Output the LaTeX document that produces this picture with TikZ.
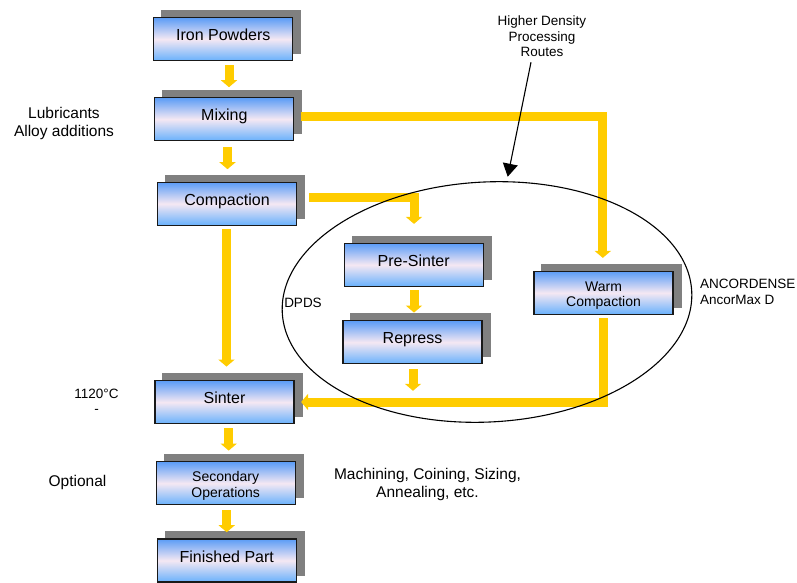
\documentclass[tikz,border=0pt]{standalone}
\usepackage{fontspec}
\setmainfont{Liberation Sans}
\usetikzlibrary{arrows.meta,backgrounds,calc}
\definecolor{ay}{HTML}{FFCC00}
\definecolor{btop}{HTML}{5B9CF6}
\definecolor{bmid}{HTML}{F5E8F3}
\definecolor{bbot}{HTML}{69B1FC}
\definecolor{shd}{HTML}{808080}
\begin{document}
\begin{tikzpicture}[x=1pt,y=-1pt,
  basebox/.style={draw=black!90, line width=1.2pt, top color=btop, bottom color=bbot, middle color=bmid,
    minimum width=139pt, minimum height=43pt, inner sep=0pt, align=center},
  box/.style={basebox, text height=11.5pt, text depth=8.5pt, font=\fontsize{16}{17}\selectfont},
  smallbox/.style={basebox, font=\fontsize{14}{15.7}\selectfont},
  yarrow/.style={draw=ay, line width=9pt, line join=miter, -{Triangle[width=16pt,length=7pt,fill=ay]}},
  lbl/.style={inner sep=0pt, align=center, font=\fontsize{15.5}{17.5}\selectfont},
  slbl/.style={inner sep=0pt, align=center, font=\fontsize{13.5}{15.5}\selectfont},
  shadowfill/.style={fill=shd}]
\useasboundingbox (0,0) rectangle (797,583);

% process boxes
\node[box] (iron) at (223.3,39.2) {Iron Powders};
\node[box] (mixing) at (224.3,119.2) {Mixing};
\node[box] (compaction) at (227,203.7) {Compaction};
\node[box] (presinter) at (413.7,264.8) {Pre-Sinter};
\node[box] (repress) at (412.5,342.3) {Repress};
\node[smallbox] (warm) at (603.5,292.8) {\rule{0pt}{15.5pt}Warm\\Compaction};
\node[box] (sinter) at (224.5,402.2) {Sinter};
\node[smallbox] (secondary) at (225.7,483.3) {\rule{0pt}{15.5pt}Secondary\\Operations};
\node[box] (finished) at (226.8,560.5) {Finished Part};

% shadows
\begin{scope}[on background layer]
\foreach \n in {iron,mixing,compaction,presinter,repress,warm,sinter,secondary,finished}
  \fill[shadowfill] ([shift={(8,-7)}]\n.south west) rectangle ([shift={(8,-7)}]\n.north east);
\end{scope}

% labels
\node[lbl] (lub) at (64,123.5) {Lubricants\\Alloy additions};
\node[slbl] (temp) at (96.5,401.5) {1120°C\\-};
\node[lbl] (opt) at (77.5,482.2) {Optional};
\node[lbl] (mach) at (427.5,484.5) {Machining, Coining, Sizing,\\Annealing, etc.};
\node[slbl] (hdr) at (542,36.6) {Higher Density\\Processing\\Routes};
\node[slbl] (dpds) at (303,303) {DPDS};
\node[slbl, align=left, anchor=west] (anc) at (700,291.8) {ANCORDENSE\\AncorMax D};

% yellow flow arrows
\draw[yarrow] ([shift={(5.7,3.8)}]iron.south) -- ([shift={(4.7,-9.9)}]mixing.north);
\draw[yarrow] ([shift={(3.2,5.5)}]mixing.south) -- ([shift={(0.5,-12.4)}]compaction.north);
\draw[yarrow] ([shift={(6.7,-3)}]mixing.east) -| ([shift={(-0.7,-12.8)}]warm.north);
\draw[yarrow] ([shift={(12,-6.2)}]compaction.east) -| ([shift={(0.3,-18.8)}]presinter.north);
\draw[yarrow] ([shift={(-0.5,3.3)}]compaction.south) -- ([shift={(2,-13.5)}]sinter.north);
\draw[yarrow] ([shift={(0.3,3.2)}]presinter.south) -- ([shift={(1.5,-7.6)}]repress.north);
\coordinate (repend) at ([shift={(0.5,26.4)}]repress.south);
\draw[yarrow] ([shift={(0.5,4.7)}]repress.south) -- (repend);
\draw[yarrow] ([shift={(0.2,3.5)}]warm.south) |- ([shift={(6.5,-0.2)}]sinter.east);
\draw[yarrow] ([shift={(4.2,4.1)}]sinter.south) -- ([shift={(3,-10.6)}]secondary.north);
\draw[yarrow] ([shift={(1,4.7)}]secondary.south) -- ([shift={(-0.1,-6.2)}]finished.north);

% ellipse of higher density routes
\draw[line width=1.1pt, rotate around={3:(487,302)}] (487,302) ellipse [x radius=205, y radius=120];

% pointer arrow
\coordinate (ptr) at (507.7,176.7);
\draw[line width=1.1pt, -{Triangle[width=15pt,length=13pt]}] ([shift={(-11,5)}]hdr.south) -- (ptr);
\end{tikzpicture}
\end{document}
